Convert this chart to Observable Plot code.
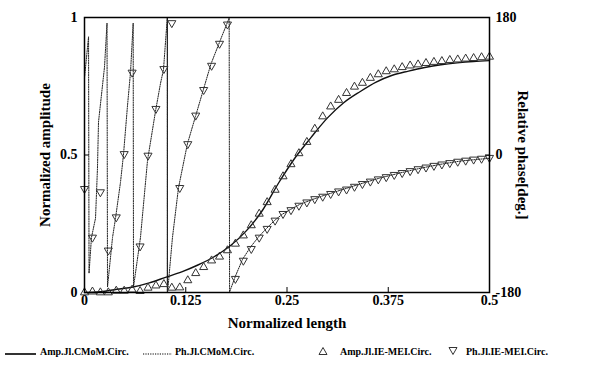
<!DOCTYPE html>
<html><head><meta charset="utf-8">
<script src="https://cdn.jsdelivr.net/npm/d3@7"></script>
<script src="https://cdn.jsdelivr.net/npm/@observablehq/plot@0.6"></script>
<style>
body{margin:0;background:#fff;font-family:"Liberation Serif","Times New Roman",serif;font-weight:bold;color:#000;}
#legend{position:relative;width:589px;height:33px;font-size:10px;}
#legend .s{position:absolute;top:8px;}
#legend .t{position:absolute;top:7px;line-height:13px;white-space:nowrap;}
svg text{font-family:"Liberation Serif","Times New Roman",serif !important;font-weight:bold;}
</style></head><body>
<div id="chart"></div>
<div id="legend"></div>
<script>
// ---- data ----
const xTicks = [0, 0.125, 0.25, 0.375, 0.5];
const xTickLabels = ["0", "0.125", "0.25", "0.375", "0.5"];
const ampTicks = [0, 0.5, 1];
const ampTickLabels = ["0", "0.5", "1"];
const phaseTicks = [-180, 0, 180];
const phaseTickLabels = ["-180", "0", "180"];

// IE-MEL samples (triangles)
const xIE = [0,0.0098,0.0196,0.0294,0.0392,0.0490,0.0588,0.0686,0.0784,0.0882,0.0980,0.1078,0.1176,0.1275,0.1373,0.1471,0.1569,0.1667,0.1765,0.1863,0.1961,0.2059,0.2157,0.2255,0.2353,0.2451,0.2549,0.2647,0.2745,0.2843,0.2941,0.3039,0.3137,0.3235,0.3333,0.3431,0.3529,0.3627,0.3725,0.3824,0.3922,0.4020,0.4118,0.4216,0.4314,0.4412,0.4510,0.4608,0.4706,0.4804,0.4902,0.5];
const ampIE = [0.000,0.003,0.000,0.000,0.006,0.006,0.010,0.005,0.017,0.025,0.030,0.017,0.018,0.044,0.070,0.092,0.116,0.130,0.153,0.177,0.207,0.244,0.286,0.328,0.373,0.422,0.466,0.506,0.547,0.595,0.640,0.676,0.700,0.725,0.748,0.762,0.780,0.793,0.804,0.811,0.819,0.825,0.829,0.834,0.838,0.841,0.845,0.847,0.850,0.852,0.855,0.857];
const phIE = [-44.3,-108,-48.6,-124.9,-81.4,1.4,108,-119.5,-0.7,60.5,112.7,172.8,-43,14.4,51.8,85.3,117,145.8,171,-162,-138.2,-122.8,-108,-96.5,-85.7,-77,-72,-66.2,-61.9,-57.6,-54.4,-50.8,-47.5,-45,-41.4,-37.8,-34.6,-31.7,-28.8,-25.9,-23.4,-20.9,-18.4,-16.2,-14,-12.2,-10.4,-8.6,-7.2,-5.8,-4.7,-3.6];

// CMoM amplitude (solid line)
const xAmpCM = [0,0.02,0.04,0.06,0.08,0.1,0.12,0.14,0.16,0.18,0.2,0.22,0.24,0.26,0.28,0.3,0.32,0.34,0.36,0.38,0.4,0.42,0.44,0.46,0.48,0.5];
const ampCM = [0,0.003,0.012,0.02,0.035,0.055,0.075,0.1,0.13,0.17,0.225,0.3,0.4,0.49,0.565,0.635,0.69,0.73,0.765,0.79,0.805,0.818,0.828,0.835,0.84,0.843];

// CMoM phase (dotted line, wraps between -180 and 180; flickers at x≈0.1)
const xPhCM = [0,0.005,0.0056,0.0086,0.0136,0.016,0.0173,0.021,0.0247,0.0278,0.0284,0.0346,0.0383,0.0444,0.0481,0.0531,0.0568,0.0601,0.0605,0.0691,0.0778,0.0877,0.0938,0.0975,0.1022,0.1023,0.1024,0.1025,0.1027,0.1086,0.116,0.127,0.137,0.147,0.156,0.168,0.1786,0.1791,0.1864,0.195,0.2049,0.2148,0.2247,0.2346,0.2444,0.2543,0.2667,0.2914,0.316,0.3407,0.3654,0.3901,0.4148,0.4395,0.4642,0.5];
const phCM = [100.8,154.8,-154.8,-108,-82.8,-18,43.2,79.2,115.2,172.8,-172.8,-108,-82.8,-36,0,64.8,108,172.8,-172.8,-108,-7.2,57.6,93.6,111.6,179.5,-179.5,179.5,-179.5,-178.2,-108,-43.2,14.4,50.4,86.4,118.8,151.2,179.3,-179.3,-158.4,-136.8,-120.6,-107.3,-96.1,-85.7,-77.4,-71.3,-64.1,-54.4,-46.1,-37.8,-29.9,-23.4,-17.3,-12.2,-7.9,-4.3];

const legendLabels = ["Amp.Jl.CMoM.Circ.", "Ph.Jl.CMoM.Circ.", "Amp.Jl.IE-MEI.Circ.", "Ph.Jl.IE-MEI.Circ."];
const xLabel = "Normalized length";
const yLabel = "Normalized amplitude";
const y2Label = "Relative phase[deg.]";

// ---- build ----
const FONT = '"Liberation Serif", "Times New Roman", serif';
const ph2y = p => (p + 180) / 360;
const y2ph = y => Math.round(y * 360 - 180);
const ie = xIE.map((x, i) => ({x, amp: ampIE[i], ph: phIE[i]}));
const cmAmp = xAmpCM.map((x, i) => ({x, amp: ampCM[i]}));
const cmPh = xPhCM.map((x, i) => ({x, ph: phCM[i]}));

const chart = Plot.plot({
  width: 589, height: 338,
  marginLeft: 84, marginRight: 100, marginTop: 17, marginBottom: 46,
  style: {fontFamily: FONT, fontWeight: "bold", fontSize: "14px", color: "#000", background: "#fff", overflow: "visible"},
  x: {domain: [0, 0.5]},
  y: {domain: [0, 1]},
  marks: [
    Plot.line(cmPh, {x: "x", y: d => ph2y(d.ph), stroke: "#222", strokeWidth: 1, strokeDasharray: "1.2,1.2"}),
    Plot.line(cmAmp, {x: "x", y: "amp", stroke: "#111", strokeWidth: 1.4, curve: "monotone-x"}),
    Plot.dot(ie, {x: "x", y: "amp", symbol: "triangle", r: 3, stroke: "#333", fill: "none", strokeWidth: 1}),
    Plot.dot(ie, {x: "x", y: d => ph2y(d.ph), symbol: "triangle", rotate: 180, r: 3, stroke: "#333", fill: "none", strokeWidth: 1}),
    Plot.axisX(xTicks, {tickSize: -5, tickPadding: 8, tickFormat: d => xTickLabels[xTicks.indexOf(d)], label: null, fontFamily: FONT}),
    Plot.axisY(ampTicks, {anchor: "left", tickSize: -5, tickPadding: 12, tickFormat: d => ampTickLabels[ampTicks.indexOf(d)], label: null, fontFamily: FONT}),
    Plot.axisY(phaseTicks.map(ph2y), {anchor: "right", tickSize: -5, tickPadding: 11, tickFormat: d => phaseTickLabels[phaseTicks.indexOf(y2ph(d))], label: null, fontFamily: FONT}),
    Plot.frame({stroke: "#000", strokeWidth: 1.5}),
    Plot.text([xLabel], {frameAnchor: "bottom", textAnchor: "middle", dy: 35, fontSize: 15, fontWeight: "bold", fontFamily: FONT}),
    Plot.text([yLabel], {frameAnchor: "left", textAnchor: "middle", dx: -39, rotate: -90, fontSize: 15, fontWeight: "bold", fontFamily: FONT}),
    Plot.text([y2Label], {frameAnchor: "right", textAnchor: "middle", dx: 33, rotate: 90, fontSize: 15, fontWeight: "bold", fontFamily: FONT})
  ]
});
document.getElementById("chart").appendChild(chart);

// legend
const lg = document.getElementById("legend");
const items = [
  {sx: 5, sym: '<svg width="31" height="6"><line x1="0" y1="3" x2="31" y2="3" stroke="#000" stroke-width="1.6"/></svg>', tx: 40},
  {sx: 143, sym: '<svg width="29" height="6"><line x1="0" y1="3" x2="29" y2="3" stroke="#000" stroke-width="1.1" stroke-dasharray="1.2,1.2"/></svg>', tx: 175},
  {sx: 318, sym: '<svg width="10" height="10"><path d="M5,1.5L9,8.5L1,8.5Z" fill="none" stroke="#333"/></svg>', tx: 340},
  {sx: 448, sym: '<svg width="10" height="10"><path d="M5,8.5L9,1.5L1,1.5Z" fill="none" stroke="#333"/></svg>', tx: 466}
];
items.forEach((it, i) => {
  const s = document.createElement("div"); s.className = "s"; s.style.left = it.sx + "px"; s.innerHTML = it.sym;
  if (i < 2) s.style.top = "10px";
  const t = document.createElement("div"); t.className = "t"; t.style.left = it.tx + "px"; t.textContent = legendLabels[i];
  lg.appendChild(s); lg.appendChild(t);
});
</script>
</body></html>
